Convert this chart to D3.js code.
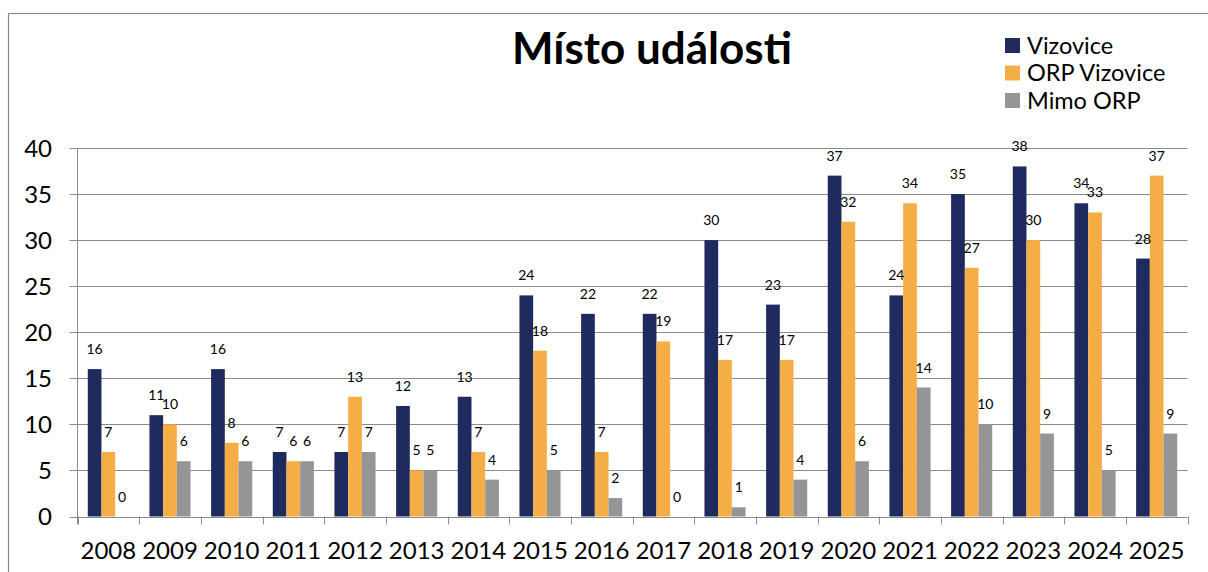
<!DOCTYPE html>
<html>
<head>
<meta charset="utf-8">
<script src="https://cdn.jsdelivr.net/npm/d3@7"></script>
<style>
  body { margin: 0; background: #fff; }
  text { font-family: Lato, "Open Sans", sans-serif; fill: #000; }
</style>
</head>
<body>
<div id="chart"></div>
<script>
// chart data
var years = ['2008','2009','2010','2011','2012','2013','2014','2015','2016',
             '2017','2018','2019','2020','2021','2022','2023','2024','2025'];
var seriesNames = ['Vizovice', 'ORP Vizovice', 'Mimo ORP'];
var vizovice = [16, 11, 16, 7, 7, 12, 13, 24, 22, 22, 30, 23, 37, 24, 35, 38, 34, 28];
var orpVizovice = [7, 10, 8, 6, 13, 5, 7, 18, 7, 19, 17, 17, 32, 34, 27, 30, 33, 37];
var mimoOrp = [0, 6, 6, 6, 7, 5, 4, 5, 2, 0, 1, 4, 6, 14, 10, 9, 5, 9];
var yTicks = [0, 5, 10, 15, 20, 25, 30, 35, 40];

var colors = ['#1f2a5f', '#f5ae45', '#959595'];
var seriesValues = [vizovice, orpVizovice, mimoOrp];

var width = 1208, height = 572;
var plotLeft = 77.5, plotRight = 1187.5, plotTop = 148, plotBottom = 516.5;

var svg = d3.select('#chart').append('svg')
  .attr('width', width)
  .attr('height', height);

// outer frame (runs off the picture on right and bottom)
svg.append('rect')
  .attr('x', 8.5).attr('y', 13.5)
  .attr('width', 1300).attr('height', 700)
  .attr('fill', 'none')
  .attr('stroke', '#8a8a8a')
  .attr('stroke-width', 1.2);

var x = d3.scaleBand().domain(years).range([plotLeft, plotRight]).padding(0);
var bw = x.bandwidth();
var barW = bw / 4.5;
var xs = d3.scaleBand().domain(seriesNames)
  .range([barW * 0.75, bw - barW * 0.75]).padding(0);

var y = d3.scaleLinear().domain([0, 40]).range([plotBottom, plotTop]);

// gridlines
svg.append('g').selectAll('line')
  .data(yTicks)
  .enter().append('line')
  .attr('x1', plotLeft - 8).attr('x2', plotRight)
  .attr('y1', function(d) { return Math.round(y(d)) + 0.5; })
  .attr('y2', function(d) { return Math.round(y(d)) + 0.5; })
  .attr('stroke', '#8c8c8c')
  .attr('stroke-width', 1);

// y axis line
svg.append('line')
  .attr('x1', plotLeft).attr('x2', plotLeft)
  .attr('y1', plotTop).attr('y2', plotBottom + 8)
  .attr('stroke', '#8c8c8c');

// x axis ticks at category edges
var edges = years.map(function(d) { return x(d); }).concat([plotRight]);
svg.append('g').selectAll('line')
  .data(edges)
  .enter().append('line')
  .attr('x1', function(d) { return Math.round(d) + 0.5; })
  .attr('x2', function(d) { return Math.round(d) + 0.5; })
  .attr('y1', plotBottom).attr('y2', plotBottom + 8)
  .attr('stroke', '#8c8c8c');

// y labels
svg.append('g').selectAll('text')
  .data(yTicks)
  .enter().append('text')
  .attr('x', 52)
  .attr('y', function(d) { return y(d); })
  .attr('dy', '0.36em')
  .attr('text-anchor', 'end')
  .style('font-size', '24px')
  .text(function(d) { return d; });

// x labels
svg.append('g').selectAll('text')
  .data(years)
  .enter().append('text')
  .attr('x', function(d) { return x(d) + bw / 2; })
  .attr('y', 559)
  .attr('text-anchor', 'middle')
  .style('font-size', '24px')
  .text(function(d) { return d; });

// bars + value labels
var groups = svg.append('g').selectAll('g')
  .data(years)
  .enter().append('g')
  .attr('transform', function(d) { return 'translate(' + x(d) + ',0)'; });

function rows(d, i) {
  return seriesNames.map(function(s, k) {
    return { s: s, k: k, v: seriesValues[k][i] };
  });
}

groups.selectAll('rect')
  .data(rows)
  .enter().append('rect')
  .attr('x', function(d) { return xs(d.s); })
  .attr('width', xs.bandwidth())
  .attr('y', function(d) { return y(d.v); })
  .attr('height', function(d) { return y(0) - y(d.v); })
  .attr('fill', function(d) { return colors[d.k]; });

groups.selectAll('text')
  .data(rows)
  .enter().append('text')
  .attr('x', function(d) { return xs(d.s) + xs.bandwidth() / 2; })
  .attr('y', function(d) { return y(d.v) - 15; })
  .attr('text-anchor', 'middle')
  .style('font-size', '14px')
  .text(function(d) { return d.v; });

// title
svg.append('text')
  .attr('x', 652)
  .attr('y', 64)
  .attr('text-anchor', 'middle')
  .style('font-size', '44px')
  .style('font-weight', 'bold')
  .text('Místo události');

// legend
var legend = svg.append('g').selectAll('g')
  .data(seriesNames)
  .enter().append('g')
  .attr('transform', function(d, i) {
    return 'translate(1005,' + (38 + i * 27.5) + ')';
  });

legend.append('rect')
  .attr('width', 15).attr('height', 15)
  .attr('fill', function(d, i) { return colors[i]; });

legend.append('text')
  .attr('x', 22)
  .attr('y', 15.5)
  .style('font-size', '23.5px')
  .text(function(d) { return d; });
</script>
</body>
</html>
